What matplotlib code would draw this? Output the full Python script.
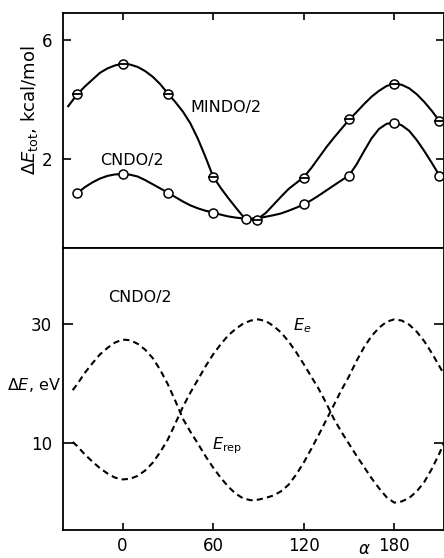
import numpy as np
import matplotlib
matplotlib.use("Agg")
import matplotlib.pyplot as plt

# top panel: total energy difference, kcal/mol (markers)
mindo_x = [-30, 0, 30, 60, 89, 120, 150, 180, 210]
mindo_y = [4.18, 5.18, 4.18, 1.39, -0.05, 1.36, 3.32, 4.52, 3.26]
cndo_x = [-30, 0, 30, 60, 82, 120, 150, 180, 210]
cndo_y = [0.84, 1.48, 0.86, 0.19, -0.02, 0.46, 1.43, 3.20, 1.43]

# curves drawn through the markers
mindo_line_x = [-36, -30, -25, -20, -15, -10, -5, 0, 5, 10, 15, 20, 25, 30,
                35, 40, 45, 50, 55, 60, 65, 70, 75, 80, 85, 89, 95, 100, 105,
                110, 115, 120, 125, 130, 135, 140, 145, 150, 155, 160, 165,
                170, 175, 180, 185, 190, 195, 200, 205, 210]
mindo_line_y = [3.76, 4.16, 4.42, 4.65, 4.88, 5.03, 5.13, 5.18, 5.16, 5.08,
                4.94, 4.75, 4.50, 4.19, 3.90, 3.58, 3.18, 2.66, 2.05, 1.40,
                1.02, 0.68, 0.36, 0.05, -0.05, -0.05, 0.18, 0.45, 0.72, 0.98,
                1.18, 1.37, 1.68, 2.03, 2.38, 2.70, 3.00, 3.30, 3.56, 3.83,
                4.08, 4.28, 4.44, 4.52, 4.48, 4.36, 4.16, 3.90, 3.60, 3.26]
cndo_line_x = [-30, -25, -20, -15, -10, -5, 0, 5, 10, 15, 20, 25, 30, 35, 40,
               45, 50, 55, 60, 65, 70, 75, 82, 90, 95, 100, 105, 110, 115,
               120, 125, 130, 135, 140, 145, 150, 155, 160, 165, 170, 175,
               180, 185, 190, 195, 200, 205, 210]
cndo_line_y = [0.84, 1.04, 1.20, 1.33, 1.42, 1.47, 1.48, 1.46, 1.40, 1.28,
               1.14, 1.00, 0.86, 0.71, 0.56, 0.43, 0.33, 0.25, 0.19, 0.12,
               0.06, 0.02, -0.02, 0.0, 0.05, 0.10, 0.16, 0.25, 0.35, 0.46,
               0.60, 0.76, 0.93, 1.10, 1.27, 1.43, 1.80, 2.25, 2.68, 3.00,
               3.17, 3.20, 3.12, 2.93, 2.62, 2.25, 1.85, 1.43]

# bottom panel: energy components, eV (CNDO/2)
alpha = [-33, -30, -25, -20, -15, -10, -5, 0, 5, 10, 15, 20, 25, 30, 35, 40,
         45, 50, 55, 60, 65, 70, 75, 80, 85, 90, 95, 100, 105, 110, 115, 120,
         125, 130, 135, 140, 145, 150, 155, 160, 165, 170, 175, 180, 185, 190,
         195, 200, 205, 210, 212.7]
e_e = [10.1, 9.4, 8.0, 6.8, 5.7, 4.8, 4.1, 3.8, 3.9, 4.4, 5.3, 6.6, 8.4, 10.5,
       13.2, 16.0, 18.4, 20.6, 22.8, 24.8, 26.5, 28.0, 29.1, 30.0, 30.5, 30.7,
       30.4, 29.6, 28.5, 27.0, 25.2, 23.2, 21.1, 19.0, 16.6, 14.0, 11.8, 9.8,
       7.8, 5.9, 4.0, 2.3, 0.8, -0.1, 0.1, 0.7, 1.8, 3.4, 5.6, 8.2, 9.8]
e_rep = [18.8, 19.8, 21.7, 23.3, 24.8, 25.9, 26.8, 27.3, 27.2, 26.6, 25.6,
         24.2, 22.2, 19.8, 17.0, 14.0, 11.8, 9.8, 7.7, 5.8, 4.1, 2.6, 1.4,
         0.6, 0.3, 0.4, 0.7, 1.1, 1.8, 2.9, 4.6, 6.6, 8.9, 11.3, 13.8, 16.3,
         18.8, 21.1, 23.7, 26.0, 27.9, 29.3, 30.3, 30.7, 30.5, 29.8, 28.6,
         27.0, 25.0, 22.8, 21.6]

plt.rcParams['font.family'] = 'DejaVu Sans'
plt.rcParams['mathtext.fontset'] = 'dejavusans'

fig = plt.figure(figsize=(4.44, 5.58), dpi=100)
ax1 = fig.add_axes([0.142, 0.5556, 0.857, 0.4216])
ax2 = fig.add_axes([0.142, 0.0502, 0.857, 0.5054])

xlim = (-39.4, 212.7)

# ---- top panel
ax1.plot(mindo_line_x, mindo_line_y, color='black', lw=1.5)
ax1.plot(cndo_line_x, cndo_line_y, color='black', lw=1.5)
ax1.plot(cndo_x, cndo_y, 'o', ms=6.5, mfc='white', mec='black', mew=1.1)
ax1.plot(mindo_x, mindo_y, 'o', ms=6.5, mfc='white', mec='black', mew=1.1)
ax1.plot(mindo_x, mindo_y, '_', ms=6.5, color='black', mew=1.3)

ax1.set_xlim(*xlim)
ax1.set_ylim(-1.0, 6.9)
ax1.set_yticks([2, 6])
ax1.set_xticks([0, 60, 120, 180])
ax1.tick_params(axis='y', direction='in', length=6, width=1.2, labelsize=12,
                pad=8, right=True)
ax1.tick_params(axis='x', direction='in', length=5, width=1.2, top=True,
                bottom=False, labelbottom=False)
ax1.set_ylabel(r'$\Delta E_{\rm tot}$, kcal/mol', fontsize=13)
ax1.yaxis.set_label_coords(-0.06, 0.585)
ax1.text(45, 3.72, 'MINDO/2', fontsize=11.5, ha='left', va='center')
ax1.text(-15, 1.94, 'CNDO/2', fontsize=11.5, ha='left', va='center')

# ---- bottom panel
ax2.plot(alpha, e_e, color='black', lw=1.5, ls=(0, (3, 2)))
ax2.plot(alpha, e_rep, color='black', lw=1.5, ls=(0, (3, 2)))

ax2.set_xlim(*xlim)
ax2.set_ylim(-4.7, 42.7)
ax2.set_yticks([10, 30])
ax2.set_xticks([0, 60, 120, 180])
ax2.tick_params(axis='y', direction='in', length=7, width=1.2, labelsize=12,
                pad=8, right=True)
ax2.tick_params(axis='x', direction='in', length=5, width=1.2, labelsize=12,
                pad=5)
ax2.text(-9.6, 34.3, 'CNDO/2', fontsize=11.5, ha='left', va='center')
ax2.text(113, 29.7, r'$E_e$', fontsize=11.5, ha='left', va='center')
ax2.text(59.4, 9.5, r'$E_{\rm rep}$', fontsize=11.5, ha='left', va='center')
ax2.text(-0.005, 19.6, r'$\Delta E$, eV', fontsize=11.5, ha='right',
         va='center', transform=ax2.get_yaxis_transform())
ax2.text(160, -7.9, r'$\alpha$', fontsize=12, ha='center', va='center')

for ax in (ax1, ax2):
    for s in ax.spines.values():
        s.set_linewidth(1.3)

fig.savefig('out.png', dpi=100)
